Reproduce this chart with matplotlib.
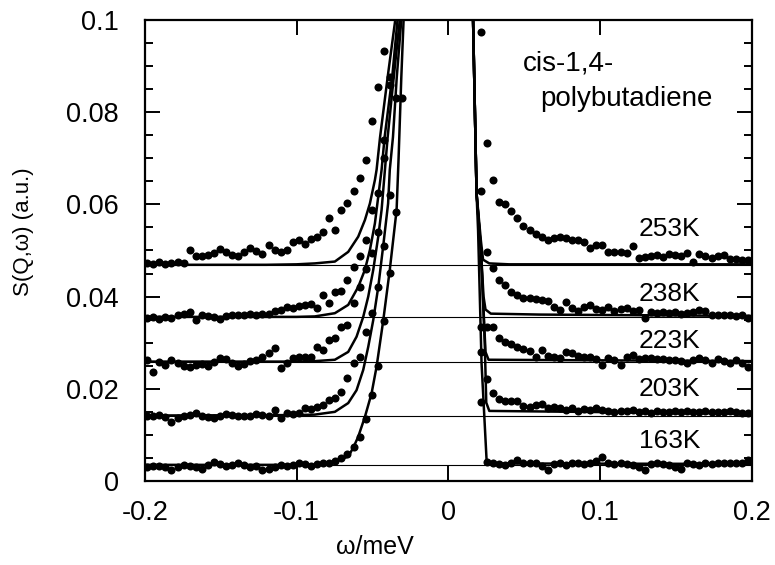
import numpy as np
import matplotlib
matplotlib.use("Agg")
import matplotlib.pyplot as plt

plt.rcParams['font.family'] = ['Liberation Sans', 'DejaVu Sans']

nan = np.nan

# energy channels (meV), the centre channels are off scale
omega_left = np.round(np.arange(-0.1985, -0.03, 0.004), 4)    # 43 channels
omega_right = np.round(np.arange(0.0215, 0.1990, 0.004), 4)   # 45 channels

temps = ["253K", "238K", "223K", "203K", "163K"]
baselines = [0.0469, 0.0356, 0.0259, 0.0142, 0.0035]

# measured S(Q,w), left wing
s253_left = [0.0472, 0.0470, 0.0474, 0.0470, 0.0472, 0.0474, 0.0472, 0.0501, 0.0487, 0.0489,
             0.0490, 0.0495, 0.0503, 0.0496, 0.0490, 0.0488, 0.0496, 0.0505, 0.0498, 0.0492,
             0.0512, 0.0500, 0.0496, 0.0500, 0.0519, 0.0522, 0.0515, 0.0525, 0.0530, 0.0541,
             0.0570, 0.0544, 0.0588, 0.0602, 0.0630, 0.0657, 0.0696, 0.0780, 0.0855, 0.0933,
             nan, nan, nan]
s238_left = [0.0354, 0.0356, 0.0352, 0.0355, 0.0354, 0.0360, 0.0362, 0.0367, 0.0349, 0.0360,
             0.0358, 0.0356, 0.0352, 0.0358, 0.0360, 0.0361, 0.0360, 0.0362, 0.0360, 0.0362,
             0.0363, 0.0368, 0.0371, 0.0378, 0.0376, 0.0380, 0.0381, 0.0383, 0.0376, 0.0403,
             0.0386, 0.0411, 0.0413, 0.0436, 0.0465, 0.0488, 0.0523, 0.0588, 0.0625, 0.0740,
             0.0877, nan, nan]
s223_left = [0.0262, 0.0237, 0.0258, 0.0252, 0.0262, 0.0255, 0.0250, 0.0248, 0.0252, 0.0254,
             0.0250, 0.0258, 0.0266, 0.0264, 0.0256, 0.0250, 0.0254, 0.0260, 0.0262, 0.0270,
             0.0277, 0.0288, 0.0246, 0.0256, 0.0266, 0.0268, 0.0270, 0.0268, 0.0291, 0.0284,
             0.0306, 0.0310, 0.0335, 0.0338, 0.0387, 0.0421, 0.0460, 0.0494, 0.0540, 0.0700,
             0.0860, nan, nan]
s203_left = [0.0140, 0.0141, 0.0143, 0.0138, 0.0129, 0.0136, 0.0140, 0.0143, 0.0147, 0.0142,
             0.0138, 0.0136, 0.0140, 0.0146, 0.0144, 0.0140, 0.0142, 0.0140, 0.0145, 0.0143,
             0.0140, 0.0154, 0.0136, 0.0148, 0.0146, 0.0148, 0.0158, 0.0156, 0.0160, 0.0165,
             0.0176, 0.0180, 0.0193, 0.0223, 0.0255, 0.0270, 0.0324, 0.0364, 0.0420, 0.0510,
             0.0620, 0.0830, nan]
s163_left = [0.0030, 0.0032, 0.0033, 0.0030, 0.0024, 0.0030, 0.0034, 0.0032, 0.0030, 0.0026,
             0.0035, 0.0042, 0.0036, 0.0033, 0.0035, 0.0038, 0.0034, 0.0030, 0.0032, 0.0024,
             0.0026, 0.0030, 0.0034, 0.0032, 0.0034, 0.0038, 0.0036, 0.0032, 0.0036, 0.0038,
             0.0040, 0.0044, 0.0050, 0.0058, 0.0074, 0.0095, 0.0135, 0.0187, 0.0250, 0.0346,
             0.0451, 0.0584, 0.0830]

# measured S(Q,w), right wing
s253_right = [0.0975, 0.0733, 0.0653, 0.0605, 0.0601, 0.0586, 0.0570, 0.0553, 0.0544, 0.0535,
              0.0530, 0.0523, 0.0527, 0.0529, 0.0527, 0.0523, 0.0523, 0.0519, 0.0505, 0.0512,
              0.0512, 0.0497, 0.0497, 0.0497, 0.0495, 0.0510, 0.0483, 0.0485, 0.0487, 0.0490,
              0.0486, 0.0492, 0.0490, 0.0488, 0.0494, 0.0476, 0.0492, 0.0489, 0.0483, 0.0487,
              0.0490, 0.0481, 0.0481, 0.0479, 0.0480]
s238_right = [0.0630, 0.0497, 0.0461, 0.0436, 0.0425, 0.0411, 0.0403, 0.0398, 0.0396, 0.0394,
              0.0393, 0.0390, 0.0378, 0.0371, 0.0389, 0.0375, 0.0368, 0.0378, 0.0382, 0.0372,
              0.0371, 0.0378, 0.0368, 0.0372, 0.0376, 0.0368, 0.0371, 0.0353, 0.0366, 0.0364,
              0.0366, 0.0365, 0.0366, 0.0363, 0.0365, 0.0367, 0.0371, 0.0369, 0.0360, 0.0361,
              0.0359, 0.0360, 0.0357, 0.0359, 0.0353]
s223_right = [0.0335, 0.0335, 0.0335, 0.0310, 0.0302, 0.0297, 0.0290, 0.0286, 0.0282, 0.0270,
              0.0284, 0.0272, 0.0270, 0.0266, 0.0280, 0.0278, 0.0272, 0.0268, 0.0270, 0.0265,
              0.0252, 0.0266, 0.0262, 0.0252, 0.0270, 0.0274, 0.0265, 0.0266, 0.0266, 0.0264,
              0.0264, 0.0263, 0.0263, 0.0261, 0.0256, 0.0262, 0.0267, 0.0262, 0.0257, 0.0264,
              0.0261, 0.0256, 0.0262, 0.0257, 0.0248]
s203_right = [0.0172, 0.0222, 0.0190, 0.0178, 0.0174, 0.0173, 0.0174, 0.0163, 0.0161, 0.0165,
              0.0167, 0.0158, 0.0160, 0.0158, 0.0155, 0.0158, 0.0152, 0.0156, 0.0153, 0.0158,
              0.0154, 0.0152, 0.0150, 0.0152, 0.0152, 0.0153, 0.0150, 0.0152, 0.0148, 0.0152,
              0.0150, 0.0149, 0.0151, 0.0150, 0.0152, 0.0149, 0.0150, 0.0152, 0.0150, 0.0150,
              0.0149, 0.0151, 0.0150, 0.0147, 0.0147]
s163_right = [0.0280, 0.0042, 0.0038, 0.0036, 0.0034, 0.0038, 0.0046, 0.0038, 0.0040, 0.0038,
              0.0033, 0.0024, 0.0036, 0.0038, 0.0035, 0.0038, 0.0038, 0.0036, 0.0040, 0.0043,
              0.0053, 0.0038, 0.0036, 0.0040, 0.0036, 0.0034, 0.0030, 0.0024, 0.0036, 0.0038,
              0.0036, 0.0034, 0.0030, 0.0027, 0.0040, 0.0036, 0.0034, 0.0038, 0.0036, 0.0038,
              0.0038, 0.0038, 0.0040, 0.0040, 0.0046]

# resolution curves (solid lines)
fit253_x = [-0.2, -0.12, -0.1, -0.088, -0.0748, -0.066, -0.0594, -0.055, -0.0517, -0.0484,
            -0.0473, -0.045, -0.040, -0.035, -0.0345,
            0.0158, 0.0163, 0.0186, 0.0215, 0.0229, 0.027, 0.04, 0.2]
fit253_y = [0.0469, 0.0469, 0.0470, 0.0472, 0.0476, 0.0497, 0.0530, 0.0566, 0.0602, 0.0653,
            0.0675, 0.0746, 0.0876, 0.1, 0.105,
            0.105, 0.1, 0.0624, 0.052, 0.048, 0.0472, 0.0470, 0.0470]
fit238_x = [-0.2, -0.1, -0.088, -0.0748, -0.066, -0.0594, -0.055, -0.0517, -0.0484, -0.0462,
            -0.044, -0.042, -0.037, -0.0335, -0.033,
            0.0158, 0.0163, 0.0186, 0.0215, 0.0232, 0.0245, 0.028, 0.06, 0.2]
fit238_y = [0.0356, 0.0356, 0.0357, 0.0364, 0.0382, 0.0421, 0.0458, 0.0501, 0.0559, 0.0617,
            0.0675, 0.0746, 0.0876, 0.1, 0.105,
            0.105, 0.1, 0.0624, 0.050, 0.040, 0.0372, 0.0363, 0.0361, 0.0358]
fit223_x = [-0.2, -0.1, -0.088, -0.0748, -0.066, -0.0605, -0.0561, -0.0528, -0.0495, -0.0462,
            -0.044, -0.0418, -0.040, -0.036, -0.032, -0.0315,
            0.0158, 0.0163, 0.0186, 0.0215, 0.0235, 0.0245, 0.0265, 0.2]
fit223_y = [0.0259, 0.0259, 0.0260, 0.0263, 0.0280, 0.0313, 0.0356, 0.0400, 0.0458, 0.0530,
            0.0588, 0.0675, 0.0746, 0.0876, 0.1, 0.105,
            0.105, 0.1, 0.0624, 0.050, 0.035, 0.028, 0.0263, 0.0260]
fit203_x = [-0.2, -0.1, -0.088, -0.0748, -0.066, -0.0605, -0.0561, -0.0528, -0.0495, -0.0462,
            -0.043, -0.0397, -0.0386, -0.0365, -0.034, -0.031, -0.0305,
            0.0158, 0.0163, 0.0186, 0.0215, 0.024, 0.025, 0.027, 0.2]
fit203_y = [0.0142, 0.0143, 0.0144, 0.0150, 0.0169, 0.0197, 0.0241, 0.0291, 0.0349, 0.0421,
            0.0508, 0.0602, 0.0675, 0.0746, 0.0876, 0.1, 0.105,
            0.105, 0.1, 0.0624, 0.050, 0.030, 0.017, 0.0152, 0.0146]
fit163_x = [-0.2, -0.088, -0.0748, -0.066, -0.0627, -0.0594, -0.055, -0.0506, -0.0473, -0.043,
            -0.0386, -0.0341, -0.0328, -0.031, -0.0295, -0.029,
            0.0158, 0.0163, 0.0186, 0.0196, 0.0219, 0.0252, 0.027, 0.2]
fit163_y = [0.0035, 0.0035, 0.0042, 0.0053, 0.0072, 0.0096, 0.0139, 0.0190, 0.0248, 0.0346,
            0.0458, 0.0588, 0.0700, 0.0876, 0.1, 0.105,
            0.105, 0.1, 0.0624, 0.0544, 0.0255, 0.0046, 0.0038, 0.0037]

data_left = [s253_left, s238_left, s223_left, s203_left, s163_left]
data_right = [s253_right, s238_right, s223_right, s203_right, s163_right]
fits = [(fit253_x, fit253_y), (fit238_x, fit238_y), (fit223_x, fit223_y),
        (fit203_x, fit203_y), (fit163_x, fit163_y)]

fig = plt.figure(figsize=(7.75, 5.65), dpi=100)
ax = fig.add_axes([0.187, 0.1487, 0.783, 0.8159])

for base in baselines:
    ax.axhline(base, color="black", lw=0.8, zorder=1)

for (fx, fy) in fits:
    ax.plot(fx, fy, color="black", lw=1.8, solid_joinstyle="round", zorder=2)

for yl, yr in zip(data_left, data_right):
    ax.plot(omega_left, yl, "o", color="black", ms=5.8, mec="none", zorder=3)
    ax.plot(omega_right, yr, "o", color="black", ms=5.8, mec="none", zorder=3)

# temperature labels
label_y = [0.0547, 0.0406, 0.0304, 0.0200, 0.0087]
for t, ly in zip(temps, label_y):
    ax.text(0.146, ly, t, fontsize=19, ha="center", va="center")

ax.text(0.0795, 0.0905, "cis-1,4-", fontsize=20, ha="center", va="center")
ax.text(0.1176, 0.0829, "polybutadiene", fontsize=20, ha="center", va="center")

ax.set_xlim(-0.2, 0.2)
ax.set_ylim(0, 0.1)
ax.set_xticks([-0.2, -0.1, 0, 0.1, 0.2])
ax.set_xticklabels(["-0.2", "-0.1", "0", "0.1", "0.2"])
ax.set_yticks([0, 0.02, 0.04, 0.06, 0.08, 0.1])
ax.set_yticklabels(["0", "0.02", "0.04", "0.06", "0.08", "0.1"])
ax.set_yticks(np.arange(0, 0.1, 0.005), minor=True)

ax.tick_params(axis="both", which="both", direction="in", top=True, right=True, width=1.4)
ax.tick_params(axis="both", which="major", length=11)
ax.tick_params(axis="both", which="minor", length=6)
ax.tick_params(axis="x", which="major", labelsize=19.5, pad=14)
ax.tick_params(axis="y", which="major", labelsize=19.5, pad=19)

for sp in ax.spines.values():
    sp.set_linewidth(1.6)

ax.set_xlabel("ω/meV", fontsize=18)
ax.xaxis.set_label_coords(0.379, -0.118)
ax.set_ylabel("S(Q,ω) (a.u.)", fontsize=16)
ax.yaxis.set_label_coords(-0.183, 0.54)

fig.savefig("out.png", dpi=100)
